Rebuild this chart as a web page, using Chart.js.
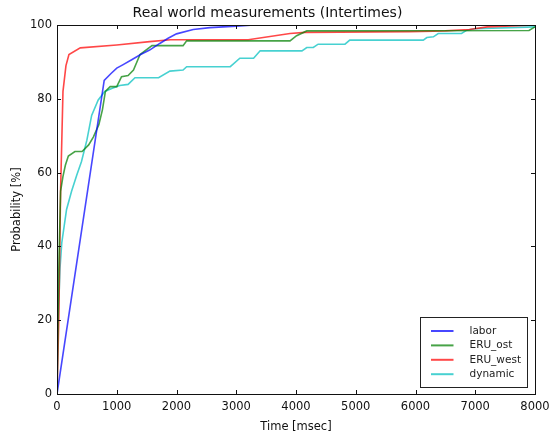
<!DOCTYPE html>
<html>
<head>
<meta charset="utf-8">
<script src="https://cdn.jsdelivr.net/npm/chart.js@4.4.0/dist/chart.umd.min.js"></script>
<style>
  html, body { margin: 0; padding: 0; background: #fff; }
  #c { display: block; }
</style>
</head>
<body>
<canvas id="c" width="552" height="438"></canvas>
<script>
// ---- data ----
const seriesNames = ["labor", "ERU_ost", "ERU_west", "dynamic"];

const laborT = [0, 790, 900, 1000, 1100, 1250, 1400, 1550, 1720, 1860, 2000, 2280, 2560, 3000, 3300, 8000];
const laborP = [0, 85, 86.8, 88.3, 89.2, 90.6, 92, 93.2, 95, 96.4, 97.6, 98.8, 99.3, 99.7, 100, 100];

const ostT = [0, 25, 60, 100, 140, 190, 300, 420, 530, 610, 700, 760, 810, 890, 1000, 1080, 1190, 1280, 1390, 1590, 2110, 2170, 3900, 4010, 4180, 7900, 8000];
const ostP = [0, 30, 55, 59, 62, 64.5, 65.7, 65.7, 67.5, 69.7, 73, 77, 82, 83.3, 83.3, 86, 86.3, 87.8, 92, 94.4, 94.4, 95.7, 95.7, 97.1, 98.4, 98.5, 99.5];

const westT = [0, 30, 60, 100, 150, 200, 390, 1000, 1550, 1900, 3200, 3900, 4150, 5900, 6500, 6900, 7200, 8000];
const westP = [0, 20, 55, 82, 89, 92, 93.8, 94.6, 95.5, 96, 96, 97.7, 98, 98.2, 98.4, 98.8, 99.5, 100];

const dynT = [0, 20, 50, 80, 160, 245, 330, 410, 500, 580, 690, 800, 915, 1050, 1190, 1305, 1700, 1890, 2110, 2170, 2900, 3060, 3290, 3400, 4100, 4180, 4290, 4370, 4820, 4900, 6130, 6190, 6300, 6380, 6770, 6860, 7000, 8000];
const dynP = [0, 20, 34, 41, 50, 55, 59.3, 63, 68.8, 75.5, 79.7, 82, 82.8, 83.6, 83.9, 85.7, 85.7, 87.5, 87.8, 88.7, 88.7, 91, 91, 93, 93, 93.9, 93.9, 94.8, 94.8, 95.9, 95.9, 96.6, 96.8, 97.7, 97.7, 98.6, 99, 99.5];

const xTicks = [0, 1000, 2000, 3000, 4000, 5000, 6000, 7000, 8000];
const yTicks = [0, 20, 40, 60, 80, 100];

const colors = ["rgba(0,0,255,0.72)", "rgba(0,128,0,0.72)", "rgba(255,0,0,0.72)", "rgba(0,191,191,0.72)"];

function pts(t, p) { return t.map((v, i) => ({ x: v, y: p[i] })); }
const allT = [laborT, ostT, westT, dynT];
const allP = [laborP, ostP, westP, dynP];

const FONT = "'DejaVu Sans', sans-serif";

// inward ticks on all four sides + full frame
const framePlugin = {
  id: 'frame',
  afterDatasetsDraw(chart) {
    const { ctx, chartArea: a, scales } = chart;
    ctx.save();
    ctx.strokeStyle = '#111';
    ctx.lineWidth = 1;
    ctx.beginPath();
    xTicks.forEach(v => {
      const x = Math.round(scales.x.getPixelForValue(v)) + 0.5;
      ctx.moveTo(x, a.bottom); ctx.lineTo(x, a.bottom - 4);
      ctx.moveTo(x, a.top); ctx.lineTo(x, a.top + 4);
    });
    yTicks.forEach(v => {
      const y = Math.round(scales.y.getPixelForValue(v)) + 0.5;
      ctx.moveTo(a.left, y); ctx.lineTo(a.left + 4, y);
      ctx.moveTo(a.right, y); ctx.lineTo(a.right - 4, y);
    });
    ctx.stroke();
    ctx.strokeRect(Math.round(a.left) + 0.5, Math.round(a.top) + 0.5,
                   Math.round(a.right - a.left), Math.round(a.bottom - a.top));
    ctx.restore();
  }
};

// legend drawn inside the plot, lower right
const legendPlugin = {
  id: 'innerLegend',
  afterDraw(chart) {
    const { ctx, chartArea: a } = chart;
    const w = 107, h = 70;
    const x0 = Math.round(a.right - 8 - w) + 0.5;
    const y0 = Math.round(a.bottom - 7 - h) + 0.5;
    ctx.save();
    ctx.fillStyle = '#fff';
    ctx.fillRect(x0, y0, w, h);
    ctx.strokeStyle = '#222';
    ctx.lineWidth = 1;
    ctx.strokeRect(x0, y0, w, h);
    ctx.font = "10.5px " + FONT;
    ctx.textBaseline = 'middle';
    ctx.textAlign = 'left';
    chart.data.datasets.forEach((ds, i) => {
      const y = y0 + 13.5 + i * 14.4;
      ctx.strokeStyle = ds.borderColor;
      ctx.lineWidth = 2;
      ctx.beginPath();
      ctx.moveTo(x0 + 10.5, y); ctx.lineTo(x0 + 33, y);
      ctx.stroke();
      ctx.fillStyle = '#222';
      ctx.fillText(ds.label, x0 + 49, y);
    });
    ctx.restore();
  }
};

new Chart(document.getElementById('c'), {
  type: 'line',
  data: {
    datasets: seriesNames.map((n, i) => ({
      label: n,
      data: pts(allT[i], allP[i]),
      borderColor: colors[i],
      backgroundColor: colors[i],
      borderWidth: 1.6,
      pointRadius: 0,
      tension: 0,
      fill: false
    }))
  },
  options: {
    responsive: false,
    animation: false,
    devicePixelRatio: 1,
    parsing: false,
    layout: { padding: { left: 0, right: 17, top: 0, bottom: 0 } },
    plugins: {
      legend: { display: false },
      tooltip: { enabled: false },
      title: {
        display: true,
        text: 'Real world measurements (Intertimes)',
        color: '#111',
        font: { family: FONT, size: 14, weight: 'normal' },
        padding: { top: 5, bottom: 3.2 }
      }
    },
    scales: {
      x: {
        type: 'linear',
        min: 0, max: 8000,
        afterBuildTicks(s) { s.ticks = xTicks.map(v => ({ value: v })); },
        afterFit(s) { s.height = 44; s.paddingRight = 0; },
        grid: { display: false, drawTicks: false },
        border: { display: false },
        ticks: { color: '#111', font: { family: FONT, size: 11.5 }, padding: 6, maxRotation: 0, autoSkip: false,
                 callback: v => String(v) },
        title: { display: true, text: 'Time [msec]', color: '#111', font: { family: FONT, size: 11.5 }, padding: { top: 0, bottom: 4 } }
      },
      y: {
        type: 'linear',
        min: 0, max: 100,
        afterBuildTicks(s) { s.ticks = yTicks.map(v => ({ value: v })); },
        afterFit(s) { s.width = 57; },
        grid: { display: false, drawTicks: false },
        border: { display: false },
        ticks: { color: '#111', font: { family: FONT, size: 11.5 }, padding: 5, autoSkip: false,
                 callback: v => String(v) },
        title: { display: true, text: 'Probability [%]', color: '#111', font: { family: FONT, size: 11.5 }, padding: { top: 10, bottom: 0 } }
      }
    }
  },
  plugins: [framePlugin, legendPlugin]
});
</script>
</body>
</html>
